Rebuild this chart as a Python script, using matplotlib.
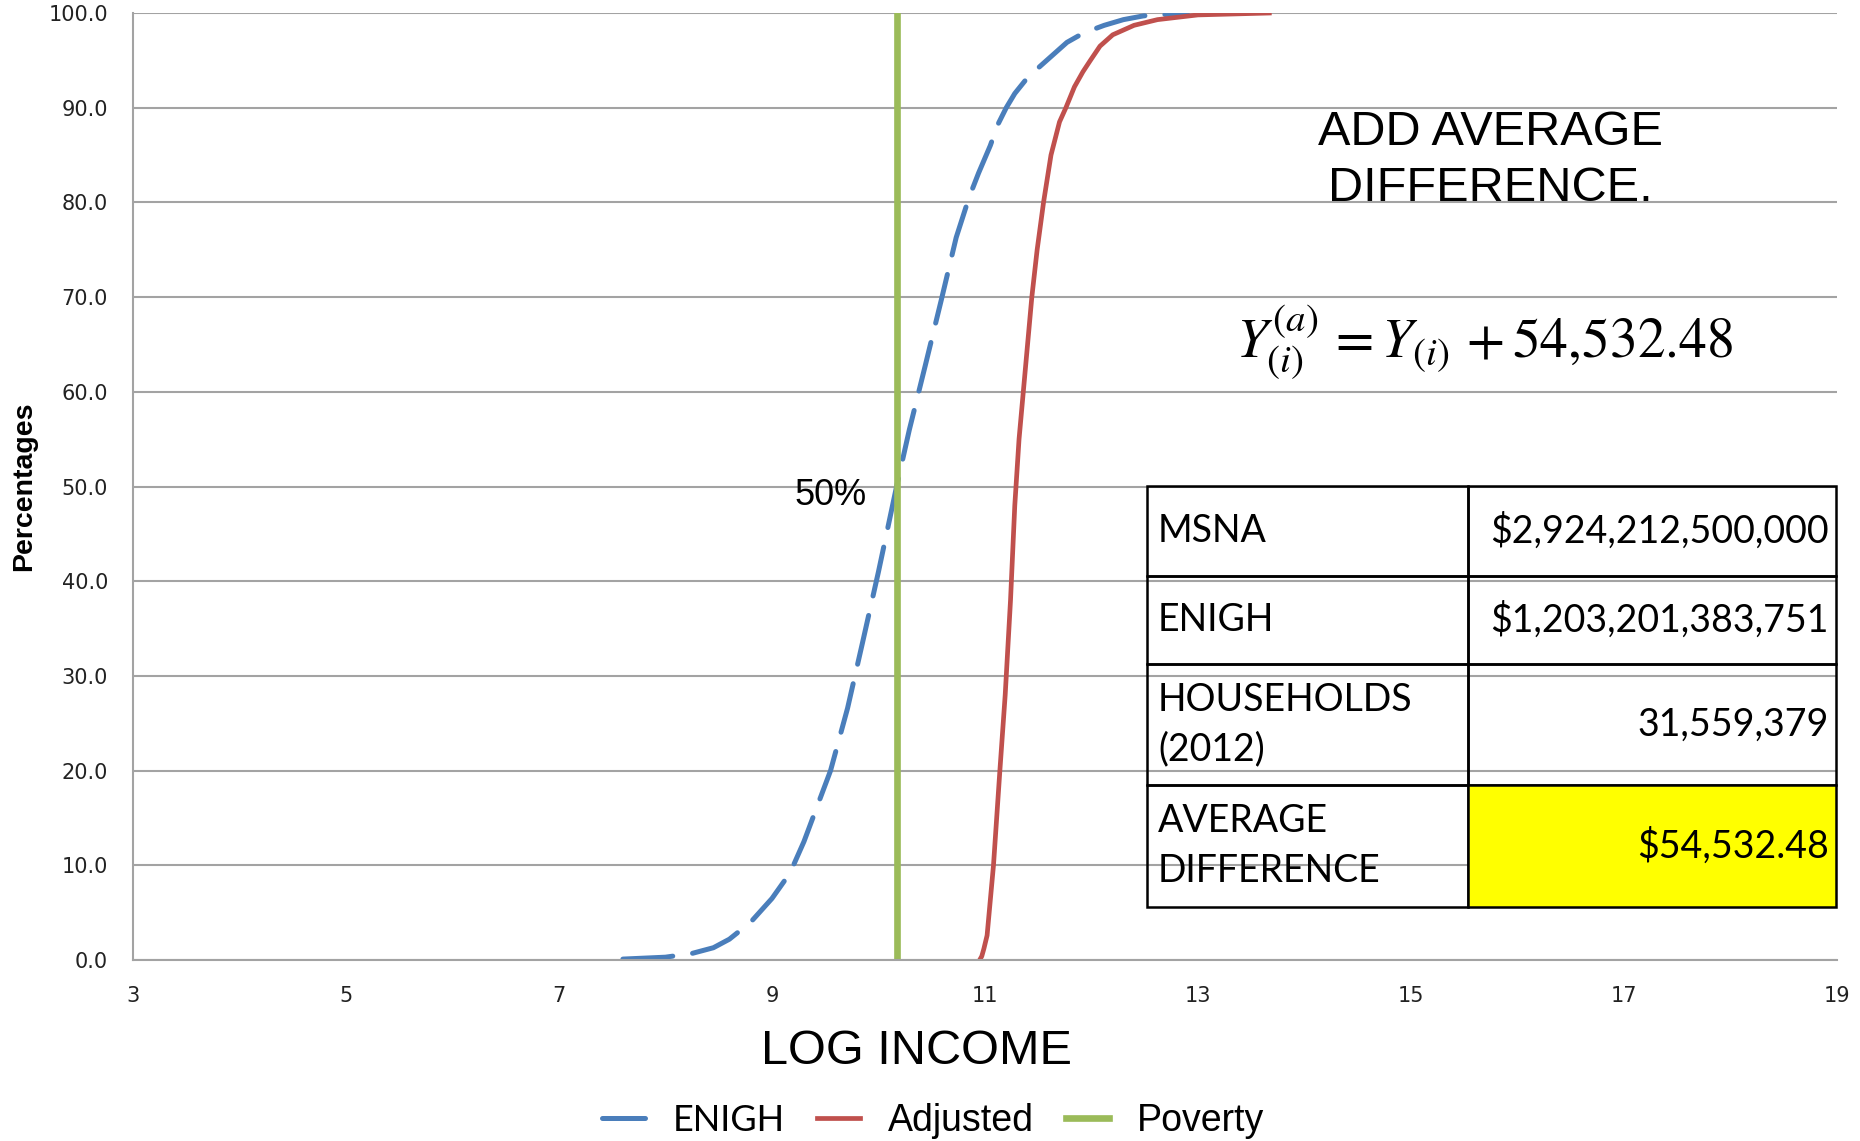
import matplotlib.pyplot as plt
from matplotlib.lines import Line2D
from matplotlib.table import Table

# cumulative share of households (%) by log income
enigh_x = [7.60, 8.00, 8.25, 8.45, 8.60, 8.80, 9.00, 9.17, 9.30, 9.40, 9.55, 9.71,
           9.85, 10.00, 10.17, 10.29, 10.44, 10.59, 10.73, 10.85, 10.94, 11.05,
           11.12, 11.20, 11.28, 11.38, 11.48, 11.57, 11.67, 11.77, 11.88, 12.00,
           12.12, 12.30, 12.49, 12.90]
enigh_y = [0.1, 0.3, 0.7, 1.3, 2.2, 4.0, 6.5, 9.2, 12.5, 15.5, 20.0, 26.6,
           33.5, 41.0, 50.0, 56.0, 62.8, 69.7, 76.3, 80.5, 83.1, 86.0,
           88.2, 90.0, 91.5, 92.9, 94.0, 94.9, 95.9, 96.9, 97.6, 98.2,
           98.7, 99.3, 99.7, 100.0]

adjusted_x = [10.95, 10.97, 10.99, 11.02, 11.08, 11.14, 11.19, 11.24, 11.28, 11.32,
              11.36, 11.40, 11.44, 11.49, 11.55, 11.62, 11.70, 11.76, 11.84, 11.92,
              11.99, 12.08, 12.20, 12.40, 12.62, 13.00, 13.67]
adjusted_y = [0.0, 0.4, 1.2, 2.6, 10.0, 20.0, 28.0, 38.0, 48.0, 55.0,
              60.0, 65.0, 70.0, 75.0, 80.0, 85.0, 88.5, 90.0, 92.2, 93.8,
              95.0, 96.5, 97.7, 98.7, 99.3, 99.8, 100.0]

poverty_x = 10.17

x_ticks = [3, 5, 7, 9, 11, 13, 15, 17, 19]
y_ticks = [0, 10, 20, 30, 40, 50, 60, 70, 80, 90, 100]

row_labels = ['MSNA', 'ENIGH', 'HOUSEHOLDS\n(2012)', 'AVERAGE\nDIFFERENCE']
row_values = ['$2,924,212,500,000', '$1,203,201,383,751', '31,559,379', '$54,532.48']
row_heights = [90, 88, 121, 122]

BLUE = '#4A7EBB'
RED = '#C0504D'
GREEN = '#9BBB59'
GRID = '#A3A3A3'

plt.rcParams['font.family'] = 'DejaVu Sans'

fig = plt.figure(figsize=(18.6, 11.41), dpi=100)
ax = fig.add_axes([0.0715, 0.1586, 0.9161, 0.8300])

ax.plot(enigh_x, enigh_y, color=BLUE, lw=3.6, dashes=(10, 4),
        solid_capstyle='round', dash_capstyle='round')
ax.plot(adjusted_x, adjusted_y, color=RED, lw=3.4)
ax.plot([poverty_x, poverty_x], [0, 100], color=GREEN, lw=4.8)

ax.set_xlim(3, 19)
ax.set_ylim(0, 100)
ax.set_xticks(x_ticks)
ax.set_yticks(y_ticks)
ax.set_yticklabels([f'{v:.1f}' for v in y_ticks])
ax.tick_params(length=0, labelsize=15, labelcolor='#222222')
ax.tick_params(axis='y', pad=18)
ax.tick_params(axis='x', pad=19)

ax.set_axisbelow(True)
ax.yaxis.grid(True, color=GRID, lw=1.5)
for side in ['top', 'right']:
    ax.spines[side].set_visible(False)
for side in ['left', 'bottom']:
    ax.spines[side].set_color(GRID)
    ax.spines[side].set_linewidth(1.5)

ax.text(9.89, 49.1, '50%', fontsize=26, family='Liberation Sans',
        ha='right', va='center')

ax.text(15.75, 86.1, 'ADD AVERAGE', fontsize=35, family='Liberation Sans',
        ha='center', va='baseline')
ax.text(15.75, 80.1, 'DIFFERENCE.', fontsize=35, family='Liberation Sans',
        ha='center', va='baseline')

ax.text(15.69, 63.6, r'$Y_{(i)}^{(a)} \/= Y_{(i)} \/+ 54{,}532.48$',
        math_fontfamily='stix', fontsize=40, ha='center', va='baseline')

# summary table in the lower right
tbl = Table(ax, bbox=[0.595, 0.056, 0.4044, 0.4445])
col_w = [321, 368]
for r, (lab, val, h) in enumerate(zip(row_labels, row_values, row_heights)):
    fill = '#FFFF00' if r == len(row_labels) - 1 else 'none'
    c0 = tbl.add_cell(r, 0, col_w[0], h, text=lab, loc='left', facecolor='none')
    c1 = tbl.add_cell(r, 1, col_w[1], h, text=val, loc='right', facecolor=fill)
    c0.PAD = 0.035
    c1.PAD = 0.02
    for c in (c0, c1):
        c.set_linewidth(1.8)
        c.set_edgecolor('black')
        c.get_text().set_fontfamily('Lato')
        c.get_text().set_linespacing(1.45)
tbl.auto_set_font_size(False)
tbl.set_fontsize(27)
tbl.set_zorder(3)
ax.add_table(tbl)

fig.text(0.4925, 0.0785, 'LOG INCOME', fontsize=35, family='Liberation Sans',
         ha='center', va='center')
fig.text(0.0132, 0.574, 'Percentages', fontsize=20.5, family='Liberation Sans',
         fontweight='bold', rotation=90, ha='center', va='center')

handles = [Line2D([], [], color=BLUE, lw=3.6, solid_capstyle='round'),
           Line2D([], [], color=RED, lw=3.4),
           Line2D([], [], color=GREEN, lw=4.8)]
leg = fig.legend(handles, ['ENIGH', 'Adjusted', 'Poverty'], loc='center',
                 bbox_to_anchor=(0.5016, 0.0175), ncol=3, frameon=False,
                 prop={'family': 'Liberation Sans', 'size': 27},
                 handlelength=1.15, handletextpad=0.75, columnspacing=0.85)
leg.get_texts()[0].set_fontfamily('Lato')
leg.get_texts()[0].set_fontsize(26)

fig.savefig('out.png', dpi=100)
